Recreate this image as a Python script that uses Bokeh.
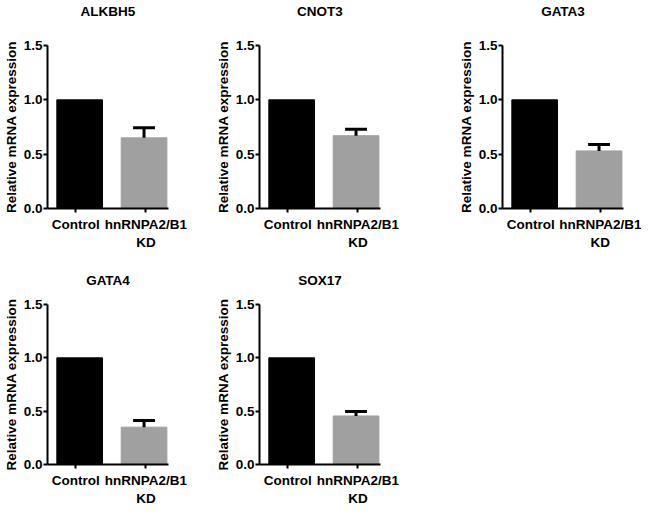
from bokeh.plotting import figure
from bokeh.layouts import column, row
from bokeh.models import Range1d, FixedTicker, ColumnDataSource, LinearAxis, PrintfTickFormatter
from bokeh.embed import file_html
from bokeh.resources import INLINE

# ---- data ----
genes = ["ALKBH5", "CNOT3", "GATA3", "GATA4", "SOX17"]
groups = ["Control", "hnRNPA2/B1\nKD"]
control_mean = [1.0, 1.0, 1.0, 1.0, 1.0]
kd_mean = [0.65, 0.67, 0.53, 0.35, 0.455]
kd_err = [0.093, 0.06, 0.06, 0.062, 0.042]
y_ticks = [0.0, 0.5, 1.0, 1.5]
y_label = "Relative mRNA expression"

FONT = "Liberation Sans"
FS = "13.5px"
bar_colors = ["#000000", "#a0a0a0"]
label_shift = [-0.06, 0.03]   # small horizontal nudge of the category ticks/labels

# layout geometry: (width, height, border_left, border_right, border_top, border_bottom, title_gap)
geom = [
    (212, 252, 43, 44, 44, 44, 27),
    (243, 252, 43, 75, 44, 44, 27),
    (186, 252, 43, 18, 44, 44, 27),
    (212, 256, 43, 44, 52, 40, 17),
    (188, 256, 43, 20, 52, 40, 17),
]


def style_text_axis(ax):
    ax.major_label_text_font = FONT
    ax.major_label_text_font_size = FS
    ax.major_label_text_font_style = "bold"
    ax.major_label_text_color = "#000000"


def make_panel(i):
    w, h, bl, br, bt, bb, tgap = geom[i]
    p = figure(width=w, height=h, output_backend="svg", toolbar_location=None,
               x_range=Range1d(-0.5, 1.38), y_range=Range1d(0, 1.5),
               min_border_left=bl, min_border_right=br,
               min_border_top=bt, min_border_bottom=bb)

    xs = list(range(len(groups)))
    src = ColumnDataSource(dict(x=xs, top=[control_mean[i], kd_mean[i]], color=bar_colors))
    p.vbar(x="x", top="top", width=0.71, fill_color="color", line_color="color", source=src)

    # error bar (upper only) for KD
    kx = xs[1]
    top = kd_mean[i] + kd_err[i]
    p.segment(x0=[kx], y0=[kd_mean[i]], x1=[kx], y1=[top], line_width=3, line_color="#000000")
    p.segment(x0=[kx - 0.17], y0=[top], x1=[kx + 0.17], y1=[top], line_width=3, line_color="#000000")

    p.xgrid.visible = False
    p.ygrid.visible = False
    p.outline_line_color = None
    p.background_fill_color = "white"
    p.border_fill_color = "white"

    for ax in (p.xaxis[0], p.yaxis[0]):
        ax.axis_line_width = 2
        ax.axis_line_color = "#000000"
        ax.major_tick_line_width = 2
        ax.major_tick_line_color = "#000000"
        ax.major_tick_out = 4
        ax.major_tick_in = 0
        ax.minor_tick_line_color = None
        style_text_axis(ax)

    # x axis with category labels
    xa = p.xaxis[0]
    tick_pos = [x + s for x, s in zip(xs, label_shift)]
    xa.ticker = FixedTicker(ticks=tick_pos)
    xa.major_label_overrides = {t: g for t, g in zip(tick_pos, groups)}
    xa.major_label_standoff = 4

    # y axis
    ya = p.yaxis[0]
    ya.ticker = FixedTicker(ticks=y_ticks)
    ya.formatter = PrintfTickFormatter(format="%.1f")
    ya.major_label_standoff = 1
    ya.axis_label = y_label
    ya.axis_label_standoff = 2
    ya.axis_label_text_font = FONT
    ya.axis_label_text_font_size = FS
    ya.axis_label_text_font_style = "bold"
    ya.axis_label_text_color = "#000000"

    # panel title as a label-only axis above the frame
    ta = LinearAxis(ticker=FixedTicker(ticks=[]), axis_line_color=None,
                    major_tick_line_color=None, minor_tick_line_color=None,
                    major_tick_out=0, major_tick_in=0, major_label_standoff=0)
    ta.axis_label = genes[i]
    ta.axis_label_standoff = tgap
    ta.axis_label_text_font = FONT
    ta.axis_label_text_font_size = FS
    ta.axis_label_text_font_style = "bold"
    ta.axis_label_text_color = "#000000"
    p.add_layout(ta, "above")
    return p


panels = [make_panel(i) for i in range(len(genes))]
layout = column(row(panels[0], panels[1], panels[2]), row(panels[3], panels[4]))

open("out.html", "w").write(file_html(layout, INLINE))
